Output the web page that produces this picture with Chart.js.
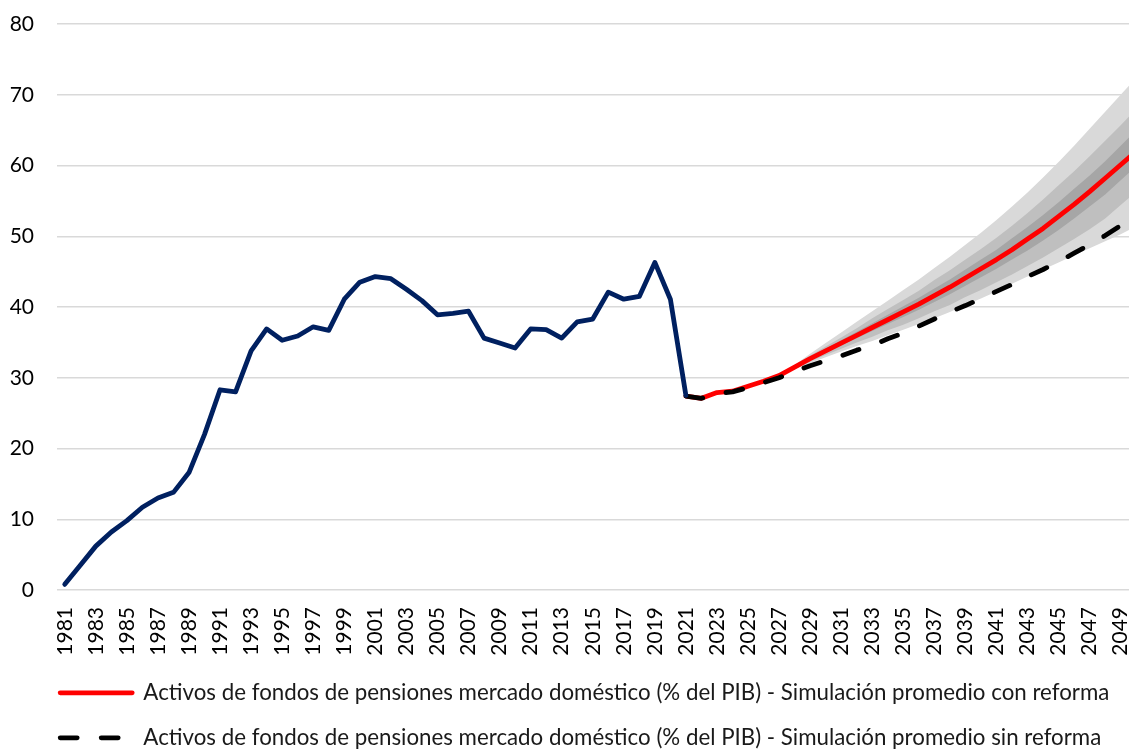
<!DOCTYPE html>
<html>
<head>
<meta charset="utf-8">
<script src="https://cdn.jsdelivr.net/npm/chart.js@4.4.0/dist/chart.umd.min.js"></script>
<style>
html,body{margin:0;padding:0;background:#fff;overflow:hidden;width:1129px;height:749px}
#wrap{position:absolute;left:0;top:0;width:1144px;height:749px}
</style>
</head>
<body>
<div id="wrap"><canvas id="c"></canvas></div>
<script>
// Categories (years)
const years = [1981,1982,1983,1984,1985,1986,1987,1988,1989,1990,
  1991,1992,1993,1994,1995,1996,1997,1998,1999,2000,
  2001,2002,2003,2004,2005,2006,2007,2008,2009,2010,
  2011,2012,2013,2014,2015,2016,2017,2018,2019,2020,
  2021,2022,2023,2024,2025,2026,2027,2028,2029,2030,
  2031,2032,2033,2034,2035,2036,2037,2038,2039,2040,
  2041,2042,2043,2044,2045,2046,2047,2048,2049,2050];

// Historical series 1981-2021
const historico = [0.8,3.5,6.2,8.2,9.8,11.7,13.0,13.8,16.6,22.0,
  28.3,28.0,33.8,36.9,35.3,35.9,37.2,36.7,41.1,43.5,
  44.3,44.0,42.5,40.9,38.9,39.1,39.4,35.6,34.9,34.2,
  36.9,36.8,35.6,37.9,38.3,42.1,41.1,41.5,46.3,41.1,
  27.5];

// Projections 2021-2050
const proyStart = 2021;
const conReforma = [27.4,27.1,27.9,28.1,28.8,29.5,30.3,31.5,32.7,33.8,
  34.9,36.0,37.1,38.2,39.3,40.4,41.6,42.8,44.1,45.4,
  46.7,48.1,49.6,51.1,52.8,54.5,56.3,58.2,60.1,62.0];
const sinReforma = [27.4,27.1,27.8,28.0,28.6,29.3,30.0,30.9,31.7,32.4,
  33.1,33.9,34.6,35.5,36.3,37.3,38.3,39.3,40.2,41.2,
  42.2,43.2,44.3,45.3,46.4,47.6,48.8,50.1,51.5,52.8];

// Fan bands 2027-2050
const bandStart = 2027;
const banda3Sup = [30.3,31.8,33.4,34.9,36.4,37.9,39.4,40.9,42.4,43.9,45.5,47.1,48.8,50.5,52.3,54.2,56.2,58.3,60.5,62.8,65.2,67.6,70.0,72.4];
const banda2Sup = [30.3,31.7,33.1,34.4,35.7,37.0,38.4,39.7,41.0,42.3,43.8,45.2,46.7,48.2,49.8,51.5,53.3,55.2,57.2,59.2,61.3,63.5,65.7,68.0];
const banda1Sup = [30.3,31.6,32.9,34.1,35.3,36.5,37.7,38.9,40.1,41.3,42.6,43.9,45.3,46.7,48.1,49.7,51.3,53.0,54.8,56.7,58.6,60.6,62.8,65.0];
const banda1Inf = [30.3,31.4,32.5,33.5,34.6,35.6,36.6,37.6,38.6,39.6,40.7,41.8,43.0,44.2,45.4,46.7,48.0,49.4,50.9,52.5,54.2,55.9,57.9,59.9];
const banda2Inf = [30.3,31.3,32.3,33.2,34.1,35.0,35.8,36.7,37.5,38.4,39.4,40.3,41.4,42.4,43.5,44.6,45.8,47.0,48.3,49.6,51.0,52.5,54.4,56.3];
const banda3Inf = [30.3,31.2,32.1,32.9,33.7,34.5,35.2,36.0,36.8,37.6,38.4,39.3,40.3,41.2,42.2,43.3,44.3,45.3,46.3,47.3,48.3,49.3,50.3,51.4];

// Y ticks
const yMin = 0, yMax = 80, yStep = 10;

const legendCon = 'Activos de fondos de pensiones mercado doméstico (% del PIB) - Simulación promedio con reforma';
const legendSin = 'Activos de fondos de pensiones mercado doméstico (% del PIB) - Simulación promedio sin reforma';

function place(arr, startYear) {
  const out = years.map(() => null);
  const off = years.indexOf(startYear);
  arr.forEach((v, i) => { out[off + i] = v; });
  return out;
}

const FONT = 'Lato, "Open Sans", sans-serif';
const bandBase = {pointRadius: 0, borderWidth: 0, borderColor: 'rgba(0,0,0,0)', tension: 0, spanGaps: false};

const data = {
  labels: years.map(String),
  datasets: [
    {label: 'Histórico', data: place(historico, 1981), borderColor: '#002060', borderWidth: 4.8,
     pointRadius: 0, tension: 0, borderJoinStyle: 'round', borderCapStyle: 'round', fill: false},
    {label: legendSin, data: place(sinReforma, proyStart), borderColor: '#000000', borderWidth: 4.8,
     borderDash: [17, 24], borderCapStyle: 'round', borderJoinStyle: 'round', pointRadius: 0, tension: 0,
     fill: false},
    {label: legendCon, data: place(conReforma, proyStart), borderColor: '#FF0000', borderWidth: 4.8,
     borderCapStyle: 'round', borderJoinStyle: 'round', pointRadius: 0, tension: 0, fill: false},
    Object.assign({label: 'b1s', data: place(banda1Sup, bandStart), fill: 4, backgroundColor: '#a6a6a6'}, bandBase),
    Object.assign({label: 'b1i', data: place(banda1Inf, bandStart), fill: false}, bandBase),
    Object.assign({label: 'b2s', data: place(banda2Sup, bandStart), fill: 6, backgroundColor: '#bfbfbf'}, bandBase),
    Object.assign({label: 'b2i', data: place(banda2Inf, bandStart), fill: false}, bandBase),
    Object.assign({label: 'b3s', data: place(banda3Sup, bandStart), fill: 8, backgroundColor: '#d9d9d9'}, bandBase),
    Object.assign({label: 'b3i', data: place(banda3Inf, bandStart), fill: false}, bandBase)
  ]
};

const legendShift = {
  id: 'legendShift',
  afterLayout(chart) { if (chart.legend) { chart.legend.left = 37.5; } }
};

new Chart(document.getElementById('c'), {
  type: 'line',
  data: data,
  plugins: [legendShift],
  options: {
    responsive: true,
    maintainAspectRatio: false,
    animation: false,
    events: [],
    layout: {padding: {top: 24, left: 0, right: 0, bottom: -10}},
    plugins: {
      tooltip: {enabled: false},
      legend: {
        position: 'bottom',
        align: 'start',
        labels: {
          usePointStyle: true,
          pointStyleWidth: 72,
          font: {family: FONT, size: 22.3},
          color: '#1a1a1a',
          padding: 22.7,
          generateLabels: (chart) => {
            const items = Chart.defaults.plugins.legend.labels.generateLabels(chart);
            items.forEach((it) => {
              const ds = chart.data.datasets[it.datasetIndex];
              it.pointStyle = 'line';
              it.lineDash = ds.borderDash || [];
              it.lineDashOffset = 0;
              it.lineWidth = ds.borderWidth;
              it.strokeStyle = ds.borderColor;
              it.fillStyle = ds.borderColor;
              it.lineCap = ds.borderCapStyle;
            });
            return items;
          },
          filter: (item) => item.datasetIndex === 1 || item.datasetIndex === 2,
          sort: (a, b) => (a.datasetIndex === 2 ? 0 : 1) - (b.datasetIndex === 2 ? 0 : 1)
        }
      }
    },
    scales: {
      x: {
        type: 'category',
        offset: true,
        grid: {display: false},
        border: {display: false},
        afterFit: (s) => { s.height = 69; s.paddingLeft = 0; s.paddingRight = 0; },
        ticks: {
          autoSkip: false,
          maxRotation: 90,
          minRotation: 90,
          padding: 9,
          color: '#000',
          font: {family: FONT, size: 21},
          callback: function (v, i) { return i % 2 === 0 ? years[i] : ''; }
        }
      },
      y: {
        min: yMin,
        max: yMax,
        border: {display: false},
        grid: {color: '#d9d9d9', lineWidth: 1.5, drawTicks: false},
        afterFit: (s) => { s.width = 57; s.paddingTop = 0; s.paddingBottom = 0; },
        ticks: {
          stepSize: yStep,
          padding: 23,
          color: '#000',
          font: {family: FONT, size: 21}
        }
      }
    }
  }
});
</script>
</body>
</html>
